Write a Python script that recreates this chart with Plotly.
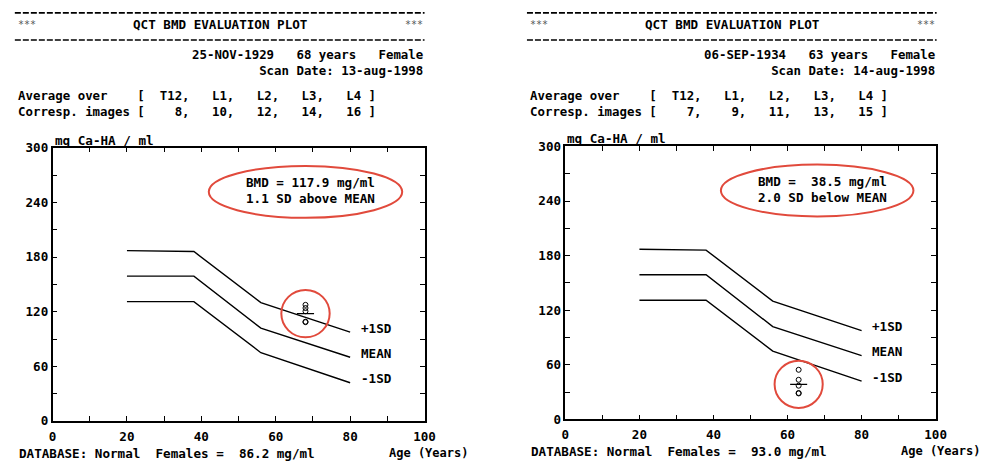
import plotly.graph_objects as go

# ---------------- data ----------------
knot_ages = [20, 38, 56, 80]
plus1sd_curve = [187, 186, 130, 97.5]
mean_curve = [159, 159, 102, 70]
minus1sd_curve = [131, 131, 75, 42]
curve_labels = ["+1SD", "MEAN", "-1SD"]

vertebrae = ["T12", "L1", "L2", "L3", "L4"]

p1_birth = "25-NOV-1929"
p1_age = 68
p1_scan = "13-aug-1998"
p1_images = [8, 10, 12, 14, 16]
p1_vertebra_bmd = [127.5, 124, 120.5, 109, 108.5]
p1_bmd = 117.9
p1_sd_text = "1.1 SD above MEAN"
p1_db_mean = 86.2

p2_birth = "06-SEP-1934"
p2_age = 63
p2_scan = "14-aug-1998"
p2_images = [7, 9, 11, 13, 15]
p2_vertebra_bmd = [54.5, 43.5, 37, 29, 28.5]
p2_bmd = 38.5
p2_sd_text = "2.0 SD below MEAN"
p2_db_mean = 93.0

x_ticks = [0, 20, 40, 60, 80, 100]
y_ticks = [0, 60, 120, 180, 240, 300]

# ---------------- helpers ----------------
W, H = 990, 468
FONT = "DejaVu Sans Mono"
RED = "#e14a3c"


def nb(s):
    return s.replace(" ", "\u00a0")


def px(x):
    return x / W


def py(y):
    return 1 - y / H


fig = go.Figure()
annotations = []
shapes = []


def txt(x, y, s, anchor="left", size=12.6, color="black", weight="bold", align="left"):
    annotations.append(dict(
        xref="paper", yref="paper", x=px(x), y=py(y), text=nb(s),
        xanchor=anchor, yanchor="middle", showarrow=False, align=align,
        font=dict(family=FONT, size=size, color=color, weight=weight)))


def panel(idx, ox, dy, birth, age, scan, images, vb, bmd, sd_text, db_mean):
    xa = "x" if idx == 1 else "x2"
    ya = "y" if idx == 1 else "y2"
    # normal-population curves
    for vals in (plus1sd_curve, mean_curve, minus1sd_curve):
        fig.add_trace(go.Scatter(x=knot_ages, y=vals, mode="lines",
                                 line=dict(color="black", width=1.4),
                                 xaxis=xa, yaxis=ya, showlegend=False,
                                 hoverinfo="skip"))
    for lab, vals in zip(curve_labels, (plus1sd_curve, mean_curve, minus1sd_curve)):
        annotations.append(dict(xref=xa, yref=ya, x=82.4, y=vals[-1], yshift=4,
                                text=lab, showarrow=False, xanchor="left",
                                yanchor="middle",
                                font=dict(family=FONT, size=12.6, color="black",
                                          weight="bold")))
    # per-vertebra measurements and their mean
    fig.add_trace(go.Scatter(x=[age] * len(vb), y=vb, mode="markers",
                             marker=dict(symbol="circle-open", size=5,
                                         color="black", line=dict(width=1)),
                             xaxis=xa, yaxis=ya, showlegend=False))
    fig.add_trace(go.Scatter(x=[age - 2.3, age + 2.3], y=[bmd, bmd], mode="lines",
                             line=dict(color="black", width=1.2),
                             xaxis=xa, yaxis=ya, showlegend=False))
    # red circle around measurement
    shapes.append(dict(type="circle", xref=xa, yref=ya,
                       x0=age - 6.5, x1=age + 6.5, y0=bmd - 26, y1=bmd + 26,
                       line=dict(color=RED, width=2)))
    # red ellipse with BMD text
    shapes.append(dict(type="circle", xref=xa, yref=ya,
                       x0=42, x1=94, y0=223, y1=280,
                       line=dict(color=RED, width=2)))
    annotations.append(dict(xref=xa, yref=ya, x=51.5, y=253, showarrow=False,
                            xanchor="left", yanchor="middle", align="left",
                            text=nb("BMD = %5.1f mg/ml" % bmd) + "<br>" + nb(sd_text),
                            font=dict(family=FONT, size=12.6, color="black",
                                      weight="bold")))
    # header
    txt(ox + 11.7, 16.7, "***", size=10, color="#555", weight="normal")
    txt(ox + 219.7, 16.7, "QCT BMD EVALUATION PLOT", anchor="center")
    txt(ox + 427, 16.7, "***", anchor="right", size=10, color="#555", weight="normal")
    for yy in (5, 33):
        shapes.append(dict(type="line", xref="paper", yref="paper",
                           x0=px(ox + 11), x1=px(ox + 427), y0=py(yy), y1=py(yy),
                           line=dict(color="black", width=1.6, dash="6px,2px")))
    txt(ox + 427, 56.5, nb("%s   %d years   Female" % (birth, age)) + "<br>" +
        nb("Scan Date: %s" % scan), anchor="right", size=12.4, align="right")
    avg = "Average over    [  " + ",   ".join(vertebrae) + " ]"
    imgs = ("Corresp. images [  " + ("%2d" % images[0]).rjust(3) + ",   " +
            ",   ".join("%2d" % v for v in images[1:]) + " ]")
    txt(ox + 11.7, 99, nb(avg) + "<br>" + nb(imgs), size=12.4)
    # y axis title
    txt(ox + 50, 137 + dy, "mg Ca-HA / ml")
    # bottom
    txt(ox + 12.7, 460 + dy, "DATABASE: Normal  Females =  %4.1f mg/ml" % db_mean)
    txt(ox + 389, 460 + dy, "Age (Years)", size=12)


panel(1, 0, 0, p1_birth, p1_age, p1_scan, p1_images, p1_vertebra_bmd,
      p1_bmd, p1_sd_text, p1_db_mean)
panel(2, 520, -2, p2_birth, p2_age, p2_scan, p2_images, p2_vertebra_bmd,
      p2_bmd, p2_sd_text, p2_db_mean)

axis_font = dict(family=FONT, size=12.6, color="black", weight="bold")
xcommon = dict(range=[0, 100], tickvals=x_ticks, showline=True, linecolor="black",
               linewidth=1.5, mirror="ticks", ticks="inside", ticklen=5,
               tickwidth=1, tickcolor="black", showgrid=False, zeroline=False,
               tickfont=axis_font, fixedrange=True, ticklabelstandoff=3,
               minor=dict(dtick=10, ticks="inside", ticklen=5, tickcolor="black",
                          showgrid=False))
ycommon = dict(range=[0, 300], tickvals=y_ticks, showline=True, linecolor="black",
               linewidth=1.5, mirror="ticks", ticks="inside", ticklen=5,
               tickwidth=1, tickcolor="black", showgrid=False, zeroline=False,
               tickfont=axis_font, fixedrange=True,
               minor=dict(dtick=30, ticks="inside", ticklen=5, tickcolor="black",
                          showgrid=False))

fig.update_layout(
    width=W, height=H,
    margin=dict(l=0, r=0, t=0, b=0),
    paper_bgcolor="white", plot_bgcolor="white",
    showlegend=False,
    xaxis=dict(domain=[px(49.3), px(427)], anchor="y", **xcommon),
    yaxis=dict(domain=[py(426.7), py(144.3)], anchor="x", **ycommon),
    xaxis2=dict(domain=[px(570), px(946)], anchor="y2", **xcommon),
    yaxis2=dict(domain=[py(425), py(143)], anchor="x2", **ycommon),
    annotations=annotations,
    shapes=shapes,
)

fig.write_html(
    "out.html",
    config={"displayModeBar": False, "responsive": False},
    post_script=(
        "var s=document.createElement('style');"
        "s.textContent='html,body{margin:0!important;padding:0!important;"
        "overflow:hidden!important;height:468px;width:990px;}';"
        "document.head.appendChild(s);"
    ),
)
